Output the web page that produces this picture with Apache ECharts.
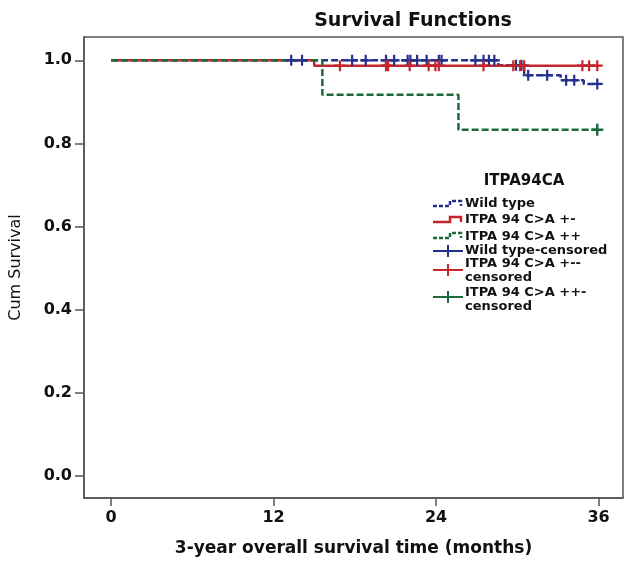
<!DOCTYPE html>
<html>
<head>
<meta charset="utf-8">
<script src="https://cdn.jsdelivr.net/npm/echarts@6/dist/echarts.min.js"></script>
<style>
html,body{margin:0;padding:0;background:#fff;}
#c{width:624px;height:562px;}
</style>
</head>
<body>
<div id="c"></div>
<script>
// ---- data ----
const xTicks = [0, 12, 24, 36];
const yTicks = [0, 0.2, 0.4, 0.6, 0.8, 1.0];

// step functions: time points and survival after each event
const wildTimes = [0, 28.6, 30.5, 33.2, 34.9, 36];
const wildSurv  = [1, 0.988, 0.964, 0.952, 0.943, 0.943];
const hetTimes  = [0, 15.0, 36];
const hetSurv   = [1, 0.987, 0.987];
const homTimes  = [0, 15.6, 25.65, 36];
const homSurv   = [1, 0.917, 0.833, 0.833];

// censored observations
const wildCensTimes = [13.3, 14.1, 17.8, 18.8, 20.3, 20.9, 21.9, 22.1, 22.6, 23.3, 24.2, 24.4, 26.9, 27.5, 27.9, 28.3, 29.9, 30.3, 30.8, 32.2, 33.6, 34.2, 35.9];
const wildCensSurv  = [1, 1, 1, 1, 1, 1, 1, 1, 1, 1, 1, 1, 1, 1, 1, 1, 0.988, 0.988, 0.964, 0.964, 0.952, 0.952, 0.943];
const hetCensTimes  = [16.9, 20.3, 20.45, 22.05, 23.45, 23.95, 24.2, 27.5, 29.7, 30.2, 30.5, 34.8, 35.3, 35.9];
const hetCensSurv   = [0.987, 0.987, 0.987, 0.987, 0.987, 0.987, 0.987, 0.987, 0.987, 0.987, 0.987, 0.987, 0.987, 0.987];
const homCensTimes  = [35.9];
const homCensSurv   = [0.833];

const groupNames = ['Wild type', 'ITPA 94 C>A +-', 'ITPA 94 C>A ++'];
const legendTitle = 'ITPA94CA';

// ---- styling ----
const BLUE = '#25308c', RED = '#c4262e', GREEN = '#1d6a3a', AXIS = '#555';
const FONT = '"DejaVu Sans", sans-serif';
const zip = (a, b) => a.map((v, i) => [v, b[i]]);
const PLUS = 'path://M4,0L6,0L6,4L10,4L10,6L6,6L6,10L4,10L4,6L0,6L0,4L4,4Z';

const chart = echarts.init(document.getElementById('c'), null, {renderer: 'canvas'});

function stepSeries(name, t, s, color, dashed, z) {
  return {
    type: 'line', name: name, step: 'end', data: zip(t, s),
    showSymbol: false, symbol: 'none', z: z, silent: true,
    lineStyle: {color: color, width: 2.5, type: dashed ? [7, 3] : 'solid'}
  };
}
function censSeries(name, t, s, color, size) {
  return {
    type: 'scatter', name: name, data: zip(t, s), symbol: PLUS,
    symbolSize: size, z: 10, silent: true,
    itemStyle: {color: color, opacity: 1}
  };
}

// legend icons built as graphic elements
const lx0 = 433, lx1 = 450, lx2 = 461, ltx = 465;
function stepIcon(yBase, color, dashed) {
  return {
    type: 'polyline', silent: true,
    shape: {points: [[lx0, yBase], [lx1, yBase], [lx1, yBase - 5], [lx2, yBase - 5], [lx2, yBase]]},
    style: {stroke: color, lineWidth: 2.5, fill: null, lineDash: dashed ? [4, 2] : null}
  };
}
function plusIcon(y, color) {
  return [
    {type: 'line', silent: true, shape: {x1: 433, y1: y, x2: 463, y2: y}, style: {stroke: color, lineWidth: 2}},
    {type: 'line', silent: true, shape: {x1: 448, y1: y - 6, x2: 448, y2: y + 6}, style: {stroke: color, lineWidth: 2}}
  ];
}
function ltext(x, y, t, size, align) {
  return {
    type: 'text', x: x, y: y, silent: true,
    style: {text: t, fill: '#111', font: 'bold ' + (size || 13) + 'px ' + FONT,
      textAlign: align || 'left', textVerticalAlign: 'middle'}
  };
}

const graphics = [
  ltext(413, 21, 'Survival Functions', 19, 'center'),
  ltext(524, 181, legendTitle, 15, 'center'),
  stepIcon(206, BLUE, true), ltext(ltx, 204, groupNames[0]),
  stepIcon(222, RED, false), ltext(ltx, 220, groupNames[1]),
  stepIcon(238, GREEN, true), ltext(ltx, 236.5, groupNames[2]),
  ...plusIcon(251, BLUE), ltext(ltx, 251, groupNames[0] + '-censored'),
  ...plusIcon(270, RED), ltext(ltx, 264, groupNames[1] + '-'), ltext(ltx, 278, 'censored'),
  ...plusIcon(297, GREEN), ltext(ltx, 293, groupNames[2] + '-'), ltext(ltx, 307, 'censored')
];

const option = {
  animation: false,
  backgroundColor: '#fff',
  grid: {left: 83, right: 1, top: 37, bottom: 60, show: true, borderColor: AXIS, borderWidth: 1.5, containLabel: false},
  xAxis: {
    type: 'value', min: -2, max: 37.8,
    name: '3-year overall survival time (months)', nameLocation: 'middle', nameGap: 42,
    nameTextStyle: {fontFamily: FONT, fontWeight: 'bold', fontSize: 17, color: '#111'},
    axisLine: {show: true, onZero: false, lineStyle: {color: AXIS, width: 1.5}},
    axisTick: {show: true, customValues: xTicks, length: 8, inside: false, lineStyle: {color: AXIS, width: 1.5}},
    axisLabel: {show: true, customValues: xTicks, margin: 12, fontFamily: FONT, fontWeight: 'bold', fontSize: 16, color: '#111'},
    splitLine: {show: false}
  },
  yAxis: {
    type: 'value', min: -0.053, max: 1.056,
    name: 'Cum Survival', nameLocation: 'middle', nameGap: 60, nameRotate: 90,
    nameTextStyle: {fontFamily: FONT, fontSize: 16, color: '#111'},
    axisLine: {show: true, onZero: false, lineStyle: {color: AXIS, width: 1.5}},
    axisTick: {show: true, customValues: yTicks, length: 9, inside: false, lineStyle: {color: AXIS, width: 1.5}},
    axisLabel: {show: true, customValues: yTicks, margin: 12, fontFamily: FONT, fontWeight: 'bold', fontSize: 16, color: '#111',
      formatter: v => v.toFixed(1)},
    splitLine: {show: false}
  },
  series: [
    stepSeries(groupNames[0], wildTimes, wildSurv, BLUE, true, 2),
    stepSeries(groupNames[1], hetTimes, hetSurv, RED, false, 3),
    stepSeries(groupNames[2], homTimes, homSurv, GREEN, true, 4),
    censSeries(groupNames[0] + '-censored', wildCensTimes, wildCensSurv, BLUE, 11),
    censSeries(groupNames[1] + '-censored', hetCensTimes, hetCensSurv, RED, 11),
    censSeries(groupNames[2] + '-censored', homCensTimes, homCensSurv, GREEN, 12)
  ],
  graphic: graphics
};
chart.setOption(option);
</script>
</body>
</html>
